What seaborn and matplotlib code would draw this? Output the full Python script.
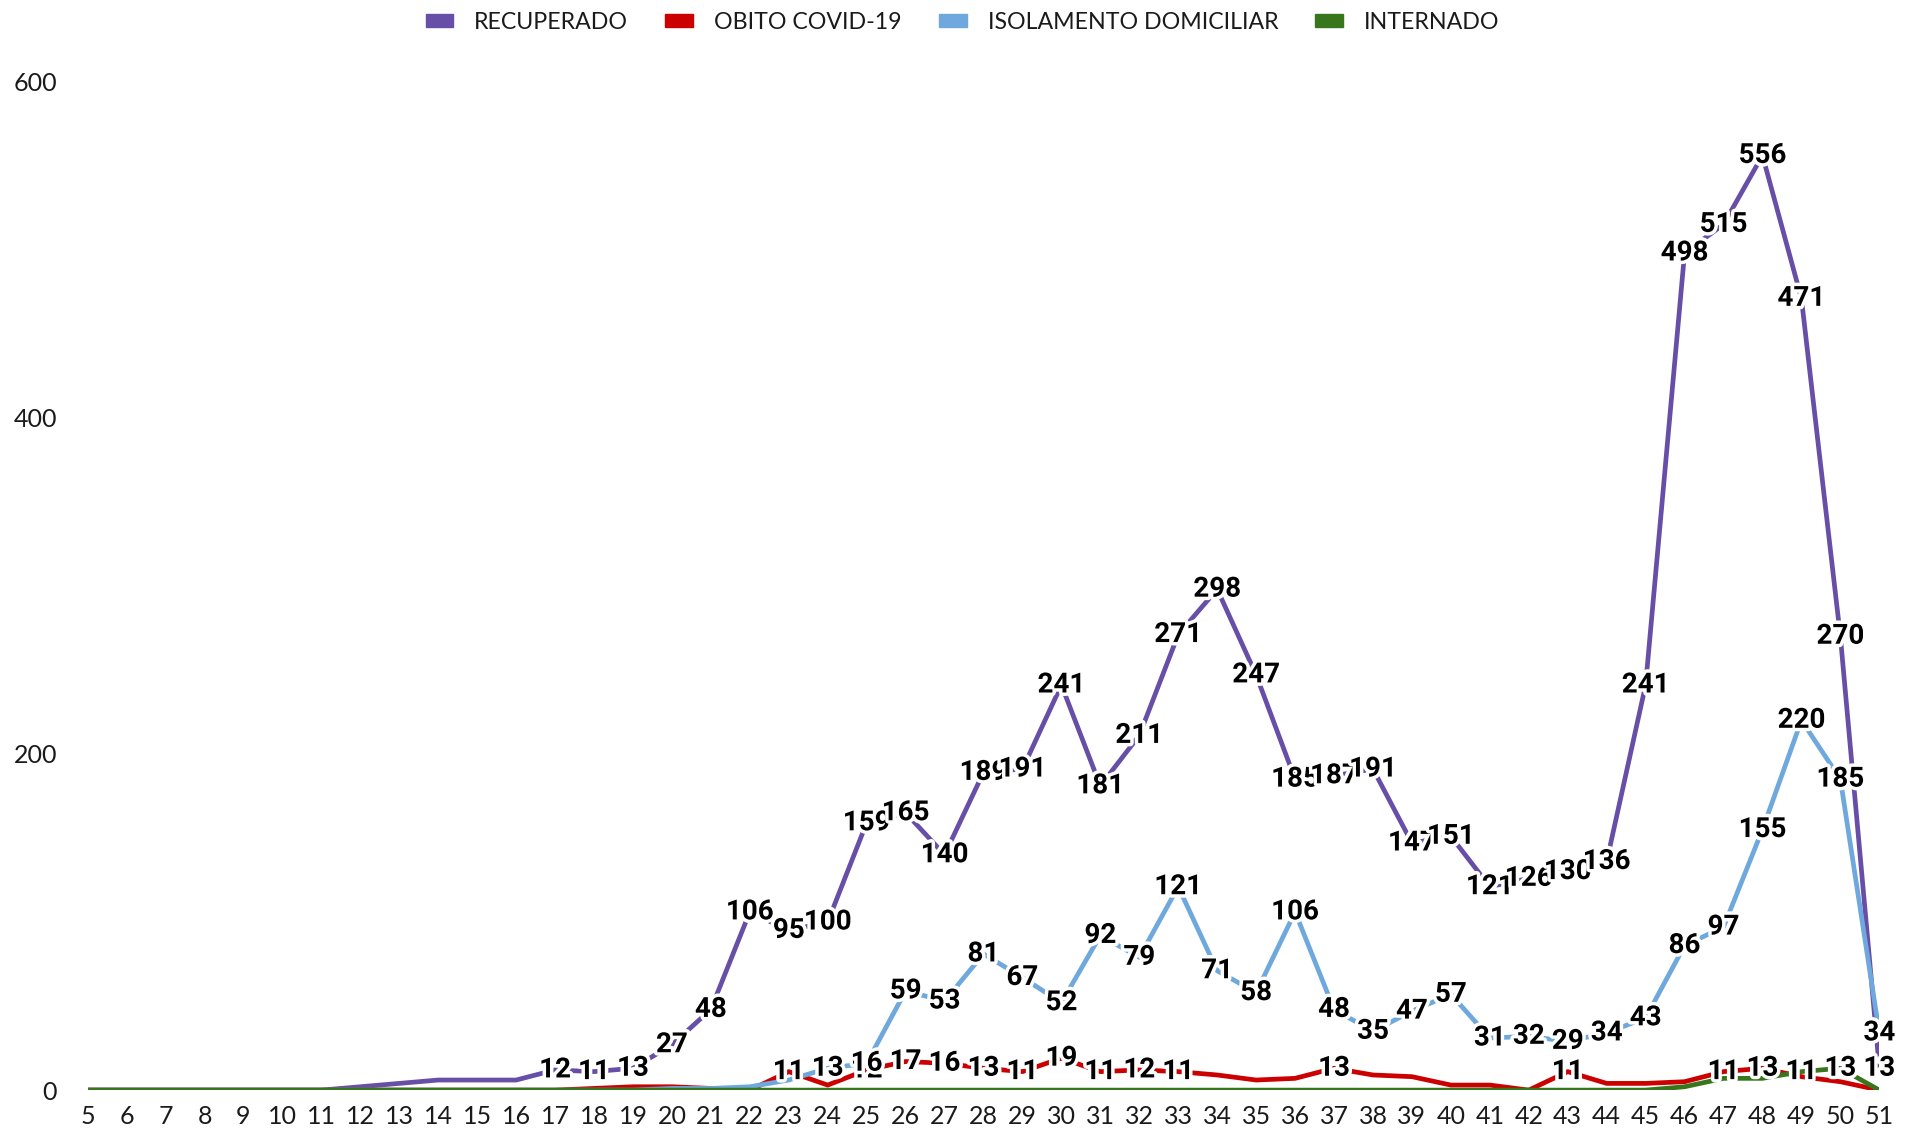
import matplotlib
matplotlib.use("Agg")
import matplotlib.pyplot as plt
import matplotlib.patheffects as pe
from matplotlib.patches import Patch
import seaborn as sns
import pandas as pd

weeks = list(range(5, 52))

recuperado = [0, 0, 0, 0, 0, 0, 0, 2, 4, 6, 6, 6, 12, 11, 13, 27, 48, 106, 95, 100,
              159, 165, 140, 189, 191, 241, 181, 211, 271, 298, 247, 185, 187, 191, 147, 151,
              121, 126, 130, 136, 241, 498, 515, 556, 471, 270, 13]
obito = [0, 0, 0, 0, 0, 0, 0, 0, 0, 0, 0, 0, 0, 1, 2, 2, 1, 0, 11, 3,
         12, 17, 16, 13, 11, 19, 11, 12, 11, 9, 6, 7, 13, 9, 8, 3,
         3, 0, 11, 4, 4, 5, 11, 13, 8, 5, 0]
isolamento = [0, 0, 0, 0, 0, 0, 0, 0, 0, 0, 0, 0, 0, 0, 0, 1, 1, 2, 6, 13,
              16, 59, 53, 81, 67, 52, 92, 79, 121, 71, 58, 106, 48, 35, 47, 57,
              31, 32, 29, 34, 43, 86, 97, 155, 220, 185, 34]
internado = [0, 0, 0, 0, 0, 0, 0, 0, 0, 0, 0, 0, 0, 0, 0, 0, 0, 0, 0, 0,
             0, 0, 0, 0, 0, 0, 0, 0, 0, 0, 0, 0, 0, 0, 0, 0,
             0, 0, 0, 0, 0, 2, 7, 7, 11, 13, 0]

series_names = ["RECUPERADO", "OBITO COVID-19", "ISOLAMENTO DOMICILIAR", "INTERNADO"]
series_values = [recuperado, obito, isolamento, internado]
colors = ["#674ea7", "#cc0000", "#6fa8dc", "#38761d"]
y_ticks = [0, 200, 400, 600]

rows = []
for name, vals in zip(series_names, series_values):
    for w, v in zip(weeks, vals):
        rows.append({"semana": w, "valor": v, "serie": name})
df = pd.DataFrame(rows)

sns.set_style("white")
plt.rcParams["font.family"] = ["Lato", "DejaVu Sans"]

fig = plt.figure(figsize=(19.06, 11.32), dpi=100)
ax = fig.add_axes([0.046, 0.037, 0.940, 0.891])

sns.lineplot(data=df, x="semana", y="valor", hue="serie", hue_order=series_names,
             palette=colors, linewidth=3.4, legend=False, ax=ax, sort=True)

# data labels
for name, vals in zip(series_names, series_values):
    for w, v in zip(weeks, vals):
        if v >= 11:
            ax.text(w, v, str(v), ha="center", va="center", fontsize=20,
                    fontweight="bold", family=["Roboto", "DejaVu Sans"], color="black",
                    zorder=10,
                    path_effects=[pe.withStroke(linewidth=5, foreground="white")])

ax.set_xlim(5, 51)
ax.set_ylim(0, 600)
ax.set_xticks(weeks)
ax.set_xticklabels([str(w) for w in weeks])
ax.set_yticks(y_ticks)
ax.set_yticklabels([str(t) for t in y_ticks])
ax.tick_params(axis="x", length=0, pad=11, labelsize=18, labelcolor="#1a1a1a")
ax.tick_params(axis="y", length=0, pad=22, labelsize=18, labelcolor="#1a1a1a")
ax.set_xlabel("")
ax.set_ylabel("")
for s in ax.spines.values():
    s.set_visible(False)
ax.grid(False)

handles = [Patch(facecolor=c, edgecolor=c) for c in colors]
fig.legend(handles, series_names, loc="upper center", bbox_to_anchor=(0.505, 1.008),
           ncol=4, frameon=False, fontsize=16.7, handlelength=1.2, handleheight=0.45,
           handletextpad=0.9, columnspacing=1.6, labelcolor="#1a1a1a")

fig.savefig("out.png", dpi=100)
